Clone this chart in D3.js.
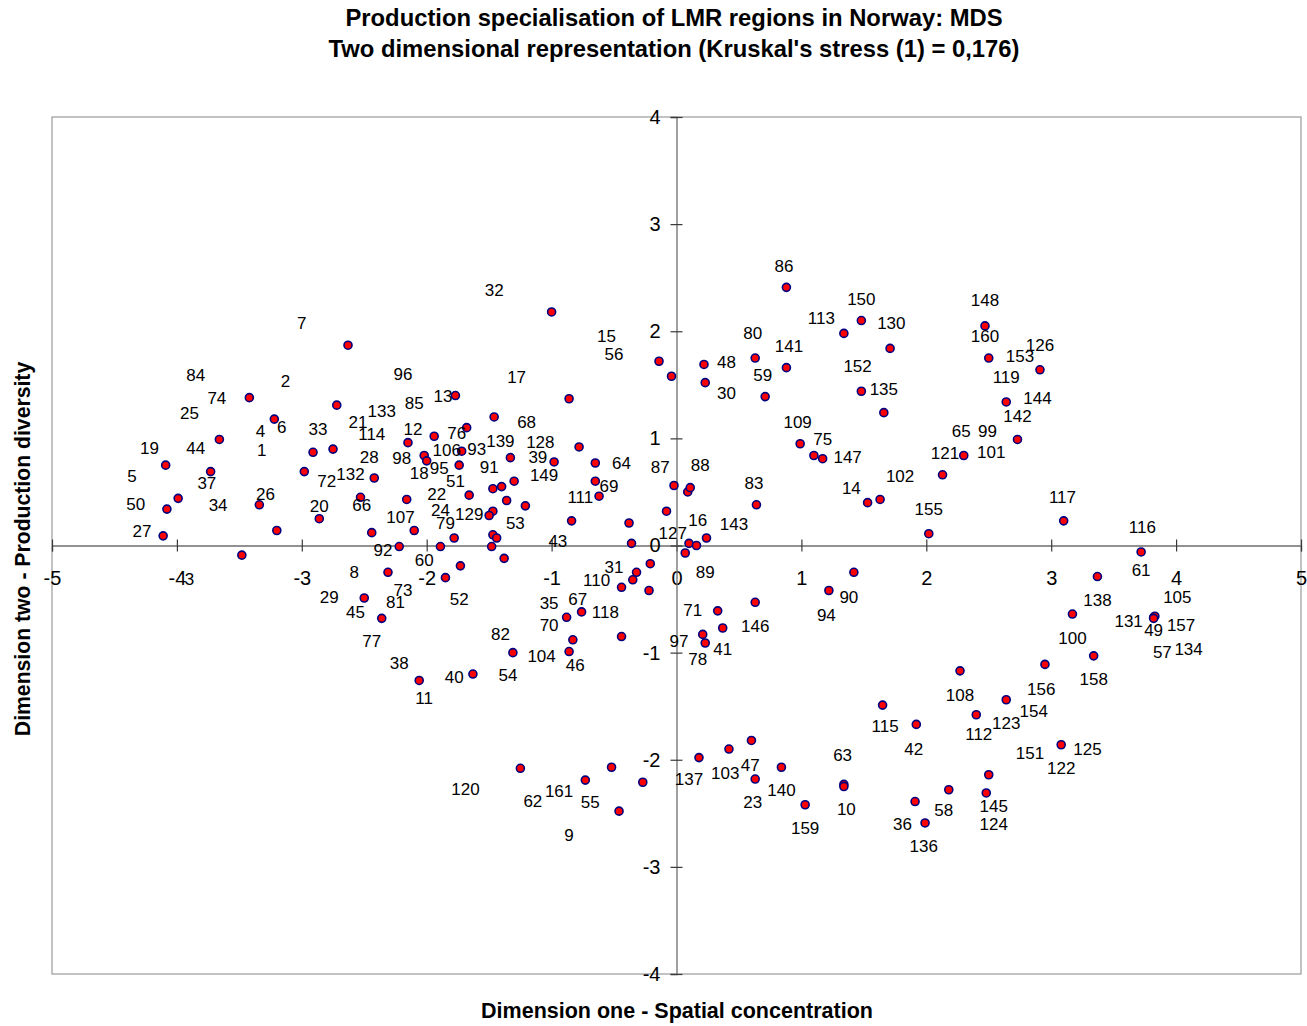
<!DOCTYPE html>
<html>
<head>
<meta charset="utf-8">
<script src="https://cdn.jsdelivr.net/npm/d3@7"></script>
<style>
  html, body { margin: 0; padding: 0; background: #fff; }
  svg { display: block; font-family: "Liberation Sans", Arial, sans-serif; }
</style>
</head>
<body>
<svg id="chart" width="1307" height="1026"></svg>
<script>
const titleLines = ["Production specialisation of LMR regions in Norway: MDS",
                    "Two dimensional representation (Kruskal's stress (1) = 0,176)"];
const xTitle = "Dimension one - Spatial concentration";
const yTitle = "Dimension two - Production diversity";
const xTicks = [-5, -4, -3, -2, -1, 0, 1, 2, 3, 4, 5];
const yTicks = [-4, -3, -2, -1, 0, 1, 2, 3, 4];

// MDS coordinates of the regions (dimension one, dimension two)
const points = [
  [-2.63,1.87],[-3.42,1.38],[-2.72,1.31],[-1.77,1.40],[-3.22,1.18],[-3.66,0.99],[-4.09,0.75],
  [-3.73,0.69],[-2.98,0.69],[-2.91,0.87],[-2.75,0.90],[-2.15,0.96],[-1.94,1.02],[-1.68,1.10],
  [-1.72,0.88],[-2.02,0.84],[-2.00,0.79],[-1.74,0.75],[-2.42,0.63],[-1.66,0.47],[-3.99,0.44],
  [-4.08,0.34],[-3.34,0.38],[-2.53,0.45],[-2.16,0.43],[-2.86,0.25],[-3.20,0.14],[-4.11,0.09],
  [-2.44,0.12],[-2.10,0.14],[-1.78,0.07],[-1.89,-0.01],[-2.22,-0.01],[-3.48,-0.09],[-1.73,-0.19],
  [-2.31,-0.25],[-1.85,-0.30],[-2.50,-0.49],[-2.36,-0.68],[-2.06,-1.26],[-1.63,-1.20],
  [-1.46,1.20],[-0.78,0.92],[-1.33,0.82],[-0.98,0.78],[-0.65,0.77],[-1.30,0.60],[-1.40,0.55],
  [-1.47,0.53],[-0.65,0.60],[-0.62,0.46],[-1.36,0.42],[-1.21,0.37],[-1.47,0.32],[-1.50,0.28],
  [-0.84,0.23],[-0.38,0.21],[-0.08,0.32],[-0.02,0.56],[0.09,0.50],[0.11,0.54],
  [0.99,0.95],[1.10,0.84],[1.17,0.81],[0.64,0.38],[1.53,0.40],[1.63,0.43],
  [-1.47,0.10],[-1.44,0.07],[-1.48,-0.01],[-1.38,-0.12],[-0.36,0.02],[0.10,0.02],[0.16,0.00],
  [0.24,0.07],[0.07,-0.07],[-0.21,-0.17],[-0.32,-0.25],[-0.35,-0.32],[-0.44,-0.39],[-0.22,-0.42],
  [1.42,-0.25],[1.22,-0.42],[-0.76,-0.62],[-0.88,-0.67],[-0.83,-0.88],[-0.86,-0.99],[-0.44,-0.85],
  [-1.31,-1.00],[0.21,-0.83],[0.23,-0.91],[0.33,-0.61],[0.37,-0.77],[0.63,-0.53],[1.65,-1.49],
  [0.60,-1.82],[-1.00,2.18],[0.88,2.41],[1.48,2.10],[1.34,1.98],[0.63,1.75],[0.88,1.66],
  [-0.14,1.72],[-0.04,1.58],[0.22,1.69],[0.23,1.52],[0.71,1.39],[-0.86,1.37],[1.48,1.44],
  [1.66,1.24],[1.71,1.84],[2.47,2.05],[2.50,1.75],[2.91,1.64],[2.64,1.34],[2.73,0.99],
  [2.30,0.84],[2.13,0.66],[2.02,0.11],[3.10,0.23],[3.72,-0.06],[3.37,-0.29],[3.17,-0.64],
  [3.82,-0.67],[3.83,-0.66],[3.82,-0.68],[3.34,-1.03],[2.95,-1.11],[2.27,-1.17],[2.64,-1.44],
  [2.40,-1.58],[1.92,-1.67],[3.08,-1.86],[2.50,-2.14],[2.18,-2.28],[2.48,-2.31],[1.91,-2.39],
  [1.99,-2.59],[1.34,-2.23],[1.34,-2.25],[-1.25,-2.08],[-0.73,-2.19],[-0.52,-2.07],[-0.27,-2.21],
  [-0.46,-2.48],[0.18,-1.98],[0.42,-1.90],[0.63,-2.18],[0.84,-2.07],[1.03,-2.42]
];

// Region labels as placed on the chart (text, dimension one, dimension two)
const labels = [
  ["7",-3.00,2.07],["84",-3.85,1.59],["2",-3.13,1.53],["74",-3.68,1.37],["96",-2.19,1.60],
  ["85",-2.10,1.33],["13",-1.87,1.39],["133",-2.36,1.25],["25",-3.90,1.23],["21",-2.55,1.15],
  ["4",-3.33,1.06],["6",-3.16,1.10],["33",-2.87,1.08],["114",-2.44,1.04],["12",-2.11,1.08],
  ["76",-1.76,1.05],["19",-4.22,0.91],["44",-3.85,0.91],["1",-3.32,0.89],["28",-2.46,0.82],
  ["98",-2.20,0.81],["106",-1.84,0.89],["93",-1.60,0.90],["5",-4.36,0.64],["37",-3.76,0.58],
  ["72",-2.80,0.60],["132",-2.61,0.66],["18",-2.06,0.67],["95",-1.90,0.72],["51",-1.77,0.60],
  ["50",-4.33,0.38],["34",-3.67,0.37],["26",-3.29,0.48],["20",-2.86,0.36],["66",-2.52,0.37],
  ["22",-1.92,0.48],["107",-2.21,0.26],["24",-1.89,0.33],["129",-1.66,0.29],["79",-1.85,0.21],
  ["27",-4.28,0.13],["92",-2.35,-0.05],["60",-2.02,-0.14],["8",-2.58,-0.25],["3",-3.90,-0.32],
  ["29",-2.78,-0.49],["45",-2.57,-0.63],["81",-2.25,-0.53],["73",-2.19,-0.42],["52",-1.74,-0.50],
  ["77",-2.44,-0.90],["38",-2.22,-1.10],["40",-1.78,-1.23],["11",-2.02,-1.43],
  ["32",-1.46,2.38],["17",-1.28,1.57],["15",-0.56,1.95],["56",-0.50,1.78],["86",0.86,2.60],
  ["150",1.48,2.30],["113",1.16,2.12],["80",0.61,1.98],["141",0.90,1.86],["48",0.40,1.71],
  ["59",0.69,1.59],["30",0.40,1.42],["152",1.45,1.67],["130",1.72,2.07],["135",1.66,1.46],
  ["68",-1.20,1.15],["139",-1.41,0.97],["128",-1.09,0.96],["39",-1.11,0.82],["91",-1.50,0.73],
  ["149",-1.06,0.65],["64",-0.44,0.77],["87",-0.13,0.73],["88",0.19,0.75],["69",-0.54,0.55],
  ["111",-0.77,0.45],["53",-1.29,0.21],["43",-0.95,0.04],["127",-0.03,0.11],["16",0.17,0.23],
  ["143",0.46,0.20],["83",0.62,0.58],["109",0.97,1.15],["75",1.17,0.99],["147",1.37,0.82],
  ["14",1.40,0.53],["31",-0.50,-0.21],["110",-0.64,-0.33],["89",0.23,-0.25],["90",1.38,-0.49],
  ["94",1.20,-0.65],["35",-1.02,-0.54],["67",-0.79,-0.50],["118",-0.57,-0.63],["70",-1.02,-0.75],
  ["82",-1.41,-0.83],["104",-1.08,-1.04],["46",-0.81,-1.12],["54",-1.35,-1.21],["71",0.13,-0.61],
  ["146",0.63,-0.76],["97",0.02,-0.90],["78",0.17,-1.06],["41",0.37,-0.97],
  ["148",2.47,2.29],["160",2.47,1.95],["126",2.91,1.87],["153",2.75,1.76],["119",2.64,1.57],
  ["144",2.89,1.37],["142",2.73,1.20],["65",2.28,1.06],["99",2.49,1.06],["121",2.15,0.86],
  ["101",2.52,0.87],["102",1.79,0.64],["155",2.02,0.34],["117",3.09,0.45],["116",3.73,0.17],
  ["61",3.72,-0.23],["138",3.37,-0.51],["105",4.01,-0.49],["131",3.62,-0.71],["49",3.82,-0.79],
  ["157",4.04,-0.75],["100",3.17,-0.87],["57",3.89,-1.00],["134",4.10,-0.97],["158",3.34,-1.25],
  ["156",2.92,-1.34],["108",2.27,-1.40],["154",2.86,-1.55],["123",2.64,-1.66],["112",2.42,-1.76],
  ["115",1.67,-1.69],["42",1.90,-1.90],["151",2.83,-1.94],["125",3.29,-1.90],["122",3.08,-2.08],
  ["63",1.33,-1.96],["10",1.36,-2.46],["58",2.14,-2.47],["145",2.54,-2.44],["124",2.54,-2.60],
  ["36",1.81,-2.60],["136",1.98,-2.81],["120",-1.69,-2.28],["62",-1.15,-2.39],["161",-0.94,-2.30],
  ["55",-0.69,-2.40],["9",-0.86,-2.71],["137",0.10,-2.18],["103",0.39,-2.13],["47",0.59,-2.05],
  ["23",0.61,-2.40],["140",0.84,-2.29],["159",1.03,-2.64]
];

const svg = d3.select("#chart");
const plot = {left: 52, right: 1301, top: 117, bottom: 974};

const x = d3.scaleLinear().domain([-5, 5]).range([plot.left, plot.right]);
const y = d3.scaleLinear().domain([-4, 4]).range([plot.bottom, plot.top]);
const fmt = d => String(d);

// plot frame
svg.append("rect")
  .attr("x", plot.left).attr("y", plot.top)
  .attr("width", plot.right - plot.left).attr("height", plot.bottom - plot.top)
  .attr("fill", "none").attr("stroke", "#9a9a9a").attr("stroke-width", 1.2);

// x axis through origin
const gx = svg.append("g").attr("transform", `translate(0,${y(0)})`)
  .call(d3.axisBottom(x).tickValues(xTicks).tickFormat(fmt).tickSize(6).tickPadding(19));
gx.select(".domain").attr("stroke", "#6e6e6e").attr("stroke-width", 1.3);
gx.selectAll(".tick line").attr("y1", -6).attr("y2", 6).attr("stroke", "#3a3a3a").attr("stroke-width", 1.2);
gx.selectAll(".tick text").attr("font-size", 20).attr("fill", "#000")
  .attr("font-family", "Liberation Sans, Arial, sans-serif");

// y axis through origin
const gy = svg.append("g").attr("transform", `translate(${x(0)},0)`)
  .call(d3.axisLeft(y).tickValues(yTicks).tickFormat(fmt).tickSize(6).tickPadding(10));
gy.select(".domain").attr("stroke", "#6e6e6e").attr("stroke-width", 1.3);
gy.selectAll(".tick line").attr("x1", -6).attr("x2", 6).attr("stroke", "#3a3a3a").attr("stroke-width", 1.2);
gy.selectAll(".tick text").attr("font-size", 20).attr("fill", "#000")
  .attr("font-family", "Liberation Sans, Arial, sans-serif");

// points
svg.append("g").selectAll("circle").data(points).join("circle")
  .attr("cx", d => x(d[0])).attr("cy", d => y(d[1])).attr("r", 4)
  .attr("fill", "#ff0000").attr("stroke", "#000080").attr("stroke-width", 1.6);

// point labels
svg.append("g").selectAll("text").data(labels).join("text")
  .attr("x", d => x(d[1])).attr("y", d => y(d[2]))
  .attr("text-anchor", "middle").attr("dominant-baseline", "central")
  .attr("font-size", 17).attr("fill", "#000")
  .text(d => d[0]);

// titles
svg.append("g").selectAll("text").data(titleLines).join("text")
  .attr("x", 674).attr("y", (d, i) => 17 + i * 31)
  .attr("text-anchor", "middle").attr("dominant-baseline", "central")
  .attr("font-size", 23.8).attr("font-weight", "bold").text(d => d);

svg.append("text").attr("x", 677).attr("y", 1011)
  .attr("text-anchor", "middle").attr("dominant-baseline", "central")
  .attr("font-size", 21.5).attr("font-weight", "bold").text(xTitle);

svg.append("text").attr("transform", "translate(22,549) rotate(-90)")
  .attr("text-anchor", "middle").attr("dominant-baseline", "central")
  .attr("font-size", 21.2).attr("font-weight", "bold").text(yTitle);
</script>
</body>
</html>
